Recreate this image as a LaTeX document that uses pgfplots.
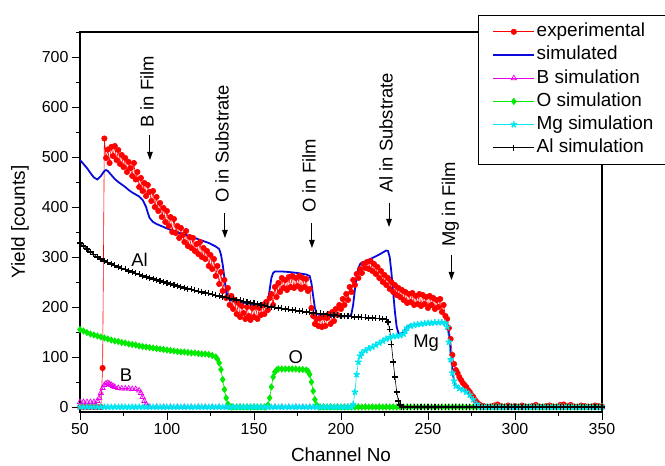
\documentclass[border=0pt]{standalone}
\usepackage{fontspec}
\setmainfont{Liberation Sans}
\usepackage{pgfplots}
\pgfplotsset{compat=1.18}
\usetikzlibrary{arrows.meta}
\definecolor{expred}{RGB}{255,0,0}
\definecolor{simblue}{RGB}{10,10,220}
\definecolor{bmag}{RGB}{235,0,235}
\definecolor{ogreen}{RGB}{0,235,0}
\definecolor{mgcyan}{RGB}{0,230,240}
\begin{document}
\begin{tikzpicture}
\begin{axis}[name=ax, scale only axis, width=522bp, height=380bp,
 xmin=50, xmax=350, ymin=-10, ymax=750,
 xtick={50,100,...,350}, ytick={0,100,...,700},
 minor xtick={75,125,...,325}, minor ytick={50,150,...,750},
 tick align=outside, xtick pos=bottom, ytick pos=left,
 major tick length=8bp, minor tick length=4bp,
 every tick/.style={black, line width=0.9bp},
 axis line style={line width=1.1bp},
 tick label style={font=\fontsize{16}{19}\selectfont},
 /pgf/number format/assume math mode=true,
 xlabel={Channel No}, ylabel={Yield [counts]},
 label style={font=\fontsize{19}{22}\selectfont},
 x label style={at={(axis description cs:0.5,-0.113)}, anchor=center},
 y label style={at={(axis description cs:-0.115,0.5)}, anchor=center},
 legend style={at={(0.7625,1.045)}, anchor=north west, draw=black, line width=0.8bp, fill=white,
   font=\fontsize{19}{22}\selectfont, inner xsep=14bp, inner ysep=6bp, row sep=2.2bp,
   nodes={inner sep=1.5bp, text height=14bp, text depth=4bp}},
 legend cell align=left,
 legend image code/.code={\draw[mark repeat=2,mark phase=2] plot coordinates {(0bp,0bp)(20.5bp,0bp)(41bp,0bp)};},
]
% experimental
\addplot[expred, line width=0.6bp, mark=*, mark size=2.7bp, mark options={solid}] coordinates {
(50,0)(52,0)(54,0)(56,0)(58,0)(60,0)(62,0)(63,78)(64,537)(65,498)(66,515)(67,488)(68,520)(69,502)(70,522)(71,494)(72,514)(73,486)(74,504)(75,480)(76,498)(77,470)(78,490)(79,478)(80,462)(81,488)(82,455)(83,470)(84,440)(85,458)(86,432)(87,448)(88,422)(89,444)(90,430)(91,412)(92,432)(93,400)(94,420)(95,392)(96,408)(97,380)(98,398)(99,370)(100,392)(101,362)(102,380)(103,350)(104,376)(105,348)(106,362)(107,338)(108,358)(109,344)(110,330)(111,352)(112,322)(113,340)(114,318)(115,338)(116,312)(117,326)(118,306)(119,330)(120,300)(121,318)(122,296)(123,312)(124,282)(125,304)(126,276)(127,296)(128,262)(129,282)(130,246)(131,270)(132,232)(133,254)(134,218)(135,238)(136,204)(137,222)(138,196)(139,214)(140,186)(141,208)(142,180)(143,202)(144,188)(145,176)(146,200)(147,182)(148,174)(149,198)(150,180)(151,202)(152,176)(153,198)(154,184)(155,204)(156,186)(157,210)(158,194)(159,218)(160,226)(161,204)(162,240)(163,220)(164,248)(165,230)(166,258)(167,238)(168,254)(169,234)(170,260)(171,240)(172,262)(173,238)(174,258)(175,242)(176,262)(177,236)(178,258)(179,240)(180,256)(181,232)(182,236)(183,198)(184,182)(185,166)(186,176)(187,162)(188,178)(189,160)(190,180)(191,162)(192,178)(193,186)(194,166)(195,190)(196,172)(197,196)(198,184)(199,204)(200,196)(201,216)(202,204)(203,226)(204,214)(205,240)(206,230)(207,254)(208,244)(209,266)(210,258)(211,276)(212,268)(213,286)(214,278)(215,290)(216,276)(217,292)(218,272)(219,286)(220,266)(221,280)(222,258)(223,272)(224,250)(225,264)(226,244)(227,258)(228,236)(229,250)(230,230)(231,244)(232,224)(233,238)(234,220)(235,234)(236,214)(237,230)(238,208)(239,226)(240,210)(241,228)(242,204)(243,222)(244,206)(245,226)(246,202)(247,224)(248,206)(249,220)(250,198)(251,222)(252,204)(253,218)(254,196)(255,214)(256,200)(257,216)(258,190)(259,204)(260,182)(261,176)(262,158)(263,136)(264,104)(265,86)(266,74)(267,68)(268,60)(269,54)(270,48)(271,44)(272,40)(273,34)(274,30)(275,24)(276,20)(277,14)(278,10)(279,6)(280,4)(282,2)(284,0)(286,1)(288,3)(290,5)(292,2)(294,0)(296,3)(298,1)(300,2)(302,0)(304,3)(306,1)(308,0)(310,2)(312,4)(314,1)(316,0)(318,2)(320,3)(322,1)(324,0)(326,4)(328,5)(330,2)(332,4)(334,1)(336,0)(338,3)(340,2)(342,0)(344,1)(346,3)(348,2)(350,1)};
\addlegendentry{experimental}
% simulated
\addplot[simblue, line width=1.8bp, no marks] coordinates {
(50,494)(52,486)(54,478)(56,468)(58,459)(60,455)(62,462)(64,472)(65,474)(66,472)(68,464)(70,456)(72,450)(74,445)(76,440)(78,434)(80,429)(82,425)(84,421)(86,414)(88,400)(89,388)(90,378)(92,370)(94,366)(96,363)(98,360)(100,357)(104,352)(108,347)(112,343)(116,338)(120,333)(124,328)(128,321)(130,316)(131,305)(132,285)(133,258)(134,232)(135,218)(136,214)(140,211)(145,208)(150,205)(155,203)(157,203)(158,210)(159,235)(160,258)(161,268)(162,271)(166,271)(170,270)(175,268)(180,265)(182,262)(183,248)(184,222)(185,198)(186,186)(188,184)(195,182)(200,181)(205,182)(206,186)(207,205)(208,235)(209,262)(210,278)(211,286)(212,289)(215,293)(218,298)(222,305)(225,311)(226,313)(227,312)(228,300)(229,268)(230,228)(231,190)(232,160)(233,148)(234,146)(236,150)(237,156)(238,161)(240,164)(244,166)(250,168)(256,169)(260,169)(261,165)(262,145)(263,108)(264,72)(265,52)(266,42)(268,37)(270,34)(272,30)(274,24)(276,15)(278,6)(280,1)(282,0)(350,0)};
\addlegendentry{simulated}
% B simulation
\addplot[bmag, line width=0.6bp, mark=triangle, mark size=3bp, mark options={solid, line width=0.7bp}] coordinates {
(50,10)(52,10)(54,10)(56,10)(58,10)(60,12)(61,18)(62,28)(63,38)(64,44)(65,47)(66,48)(67,46)(68,44)(69,42)(70,40)(72,38)(74,37)(76,37)(78,37)(80,36)(82,36)(84,33)(85,28)(86,20)(87,12)(88,5)(89,1)(90,0)(94,0)(98,0)(102,0)(106,0)(110,0)(114,0)(118,0)(122,0)(126,0)(130,0)(134,0)(138,0)(142,0)(146,0)(150,0)(154,0)(158,0)(162,0)(166,0)(170,0)(174,0)(178,0)(182,0)(186,0)(190,0)(194,0)(198,0)(202,0)(206,0)(210,0)(214,0)(218,0)(222,0)(226,0)(230,0)(234,0)(238,0)(242,0)(246,0)(250,0)(254,0)(258,0)(262,0)(266,0)(270,0)(274,0)(278,0)(282,0)(286,0)(290,0)(294,0)(298,0)(302,0)(306,0)(310,0)(314,0)(318,0)(322,0)(326,0)(330,0)(334,0)(338,0)(342,0)(346,0)(350,0)};
\addlegendentry{B simulation}
% O simulation
\addplot[ogreen, line width=0.6bp, mark=diamond*, mark size=3.2bp, mark options={solid}] coordinates {
(50,155)(52,152)(54,149)(56,146)(58,144)(60,142)(62,140)(64,138)(66,136)(68,134)(70,132)(72,131)(74,129)(76,128)(78,126)(80,125)(82,124)(84,122)(86,121)(88,120)(90,119)(92,118)(94,117)(96,116)(98,115)(100,114)(102,113)(104,112)(106,111)(108,110)(110,110)(112,109)(114,108)(116,108)(118,107)(120,106)(122,106)(124,105)(126,103)(128,100)(129,96)(130,88)(131,75)(132,55)(133,35)(134,18)(135,6)(136,1)(137,0)(138,0)(140,0)(142,0)(144,0)(146,0)(148,0)(150,0)(152,0)(154,0)(156,0)(157,0)(158,4)(159,18)(160,40)(161,60)(162,70)(163,74)(164,76)(166,76)(168,76)(170,76)(172,76)(174,76)(176,75)(178,75)(180,74)(181,72)(182,65)(183,50)(184,32)(185,15)(186,4)(187,0)(188,0)(190,0)(192,0)(194,0)(196,0)(198,0)(200,0)(202,0)(204,0)(206,0)(208,0)(210,0)(212,0)(214,0)(216,0)(218,0)(220,0)(222,0)(224,0)(226,0)(228,0)(230,0)(232,0)(234,0)(236,0)(238,0)(240,0)(242,0)(244,0)(246,0)(248,0)(250,0)(252,0)(254,0)(256,0)(258,0)(260,0)(262,0)(264,0)(266,0)(268,0)(270,0)(272,0)(274,0)(276,0)(278,0)(280,0)(282,0)(284,0)(286,0)(288,0)(290,0)(292,0)(294,0)(296,0)(298,0)(300,0)(302,0)(304,0)(306,0)(308,0)(310,0)(312,0)(314,0)(316,0)(318,0)(320,0)(322,0)(324,0)(326,0)(328,0)(330,0)(332,0)(334,0)(336,0)(338,0)(340,0)(342,0)(344,0)(346,0)(348,0)(350,0)};
\addlegendentry{O simulation}
% Mg simulation
\addplot[mgcyan, line width=0.6bp, mark=star, mark size=3.3bp, mark options={solid, line width=1.5bp}] coordinates {
(50,0)(52,0)(54,0)(56,0)(58,0)(60,0)(62,0)(64,0)(66,0)(68,0)(70,0)(72,0)(74,0)(76,0)(78,0)(80,0)(82,0)(84,0)(86,0)(88,0)(90,0)(92,0)(94,0)(96,0)(98,0)(100,0)(102,0)(104,0)(106,0)(108,0)(110,0)(112,0)(114,0)(116,0)(118,0)(120,0)(122,0)(124,0)(126,0)(128,0)(130,0)(132,0)(134,0)(136,0)(138,0)(140,0)(142,0)(144,0)(146,0)(148,0)(150,0)(152,0)(154,0)(156,0)(158,0)(160,0)(162,0)(164,0)(166,0)(168,0)(170,0)(172,0)(174,0)(176,0)(178,0)(180,0)(182,0)(184,0)(186,0)(188,0)(190,0)(192,0)(194,0)(196,0)(198,0)(200,0)(202,0)(204,0)(206,0)(207,5)(208,30)(209,65)(210,90)(211,102)(212,108)(214,113)(216,117)(218,120)(220,124)(222,128)(224,132)(226,136)(228,139)(230,141)(232,142)(234,143)(236,146)(237,152)(238,158)(240,162)(242,164)(244,165)(246,166)(248,167)(250,168)(252,168)(254,169)(256,169)(258,169)(260,168)(261,160)(262,130)(263,95)(264,68)(265,52)(266,42)(268,37)(270,34)(272,30)(274,24)(276,15)(278,6)(280,1)(282,0)(284,0)(286,0)(288,0)(290,0)(292,0)(294,0)(296,0)(298,0)(300,0)(302,0)(304,0)(306,0)(308,0)(310,0)(312,0)(314,0)(316,0)(318,0)(320,0)(322,0)(324,0)(326,0)(328,0)(330,0)(332,0)(334,0)(336,0)(338,0)(340,0)(342,0)(344,0)(346,0)(348,0)(350,0)};
\addlegendentry{Mg simulation}
% Al simulation
\addplot[black, line width=0.6bp, mark=+, mark size=3bp, mark options={solid, line width=1.1bp}] coordinates {
(50,328)(52,322)(54,316)(56,310)(58,305)(60,300)(62,296)(64,292)(66,289)(68,286)(70,283)(72,280)(74,277)(76,275)(78,272)(80,270)(82,267)(84,265)(86,262)(88,260)(90,258)(92,256)(94,254)(96,252)(98,250)(100,248)(102,246)(104,244)(106,242)(108,240)(110,238)(112,236)(114,235)(116,233)(118,231)(120,230)(122,228)(124,227)(126,225)(128,223)(130,222)(132,220)(134,219)(136,217)(138,216)(140,214)(142,213)(144,211)(146,210)(148,208)(150,207)(152,206)(154,204)(156,203)(158,201)(160,200)(162,199)(164,198)(166,197)(168,196)(170,195)(172,194)(174,193)(176,192)(178,191)(180,190)(182,189)(184,188)(186,187)(188,187)(190,186)(192,185)(194,184)(196,184)(198,183)(200,182)(202,182)(204,181)(206,181)(208,180)(210,180)(212,179)(214,179)(216,178)(218,178)(220,177)(222,177)(224,176)(226,175)(227,170)(228,155)(229,125)(230,90)(231,60)(232,30)(233,12)(234,4)(235,0)(236,0)(238,0)(240,0)(242,0)(244,0)(246,0)(248,0)(250,0)(252,0)(254,0)(256,0)(258,0)(260,0)(262,0)(264,0)(266,0)(268,0)(270,0)(272,0)(274,0)(276,0)(278,0)(280,0)(282,0)(284,0)(286,0)(288,0)(290,0)(292,0)(294,0)(296,0)(298,0)(300,0)(302,0)(304,0)(306,0)(308,0)(310,0)(312,0)(314,0)(316,0)(318,0)(320,0)(322,0)(324,0)(326,0)(328,0)(330,0)(332,0)(334,0)(336,0)(338,0)(340,0)(342,0)(344,0)(346,0)(348,0)(350,0)};
\addlegendentry{Al simulation}
% annotations
\tikzset{ann/.style={rotate=90, anchor=west, inner sep=0pt, text height=0.72em, text depth=0pt, font=\fontsize{18.5}{22}\selectfont},
 arr/.style={-{Triangle[length=8bp,width=5.5bp]}, line width=1bp, black}}
\draw[arr] (axis cs:90.2,544) -- (axis cs:90.2,494);
\node[ann] at (axis cs:90.2,558) {B in Film};
\draw[arr] (axis cs:133.3,388) -- (axis cs:133.3,338);
\node[ann] at (axis cs:133.3,408) {O in Substrate};
\draw[arr] (axis cs:183.3,368) -- (axis cs:183.3,318);
\node[ann] at (axis cs:183.3,388) {O in Film};
\draw[arr] (axis cs:227.6,408) -- (axis cs:227.6,360);
\node[ann] at (axis cs:227.6,428) {Al in Substrate};
\draw[arr] (axis cs:263.5,304) -- (axis cs:263.5,254);
\node[ann] at (axis cs:263.5,320) {Mg in Film};
\node[font=\fontsize{18.5}{22}\selectfont] at (axis cs:84.2,294) {Al};
\node[font=\fontsize{18.5}{22}\selectfont] at (axis cs:76.4,64) {B};
\node[font=\fontsize{18.5}{22}\selectfont] at (axis cs:174,100) {O};
\node[font=\fontsize{18.5}{22}\selectfont] at (axis cs:248.9,128) {Mg};
\end{axis}
\pgfresetboundingbox
\path ([xshift=-80bp,yshift=-54bp]ax.south west) rectangle ([xshift=63bp,yshift=32bp]ax.north east);
\end{tikzpicture}
\end{document}
